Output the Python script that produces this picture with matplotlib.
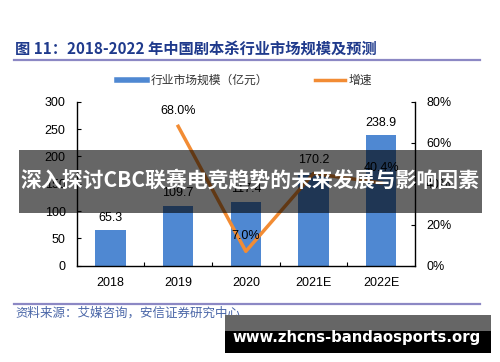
import matplotlib
matplotlib.use("Agg")
from matplotlib import pyplot as plt
from matplotlib.lines import Line2D
from matplotlib.patches import Rectangle

# dados do gráfico
anos = ["2018", "2019", "2020", "2021E", "2022E"]
mercado = [65.3, 109.7, 117.4, 170.2, 238.9]          # 亿元
crescimento = [None, 68.0, 7.0, 45.0, 40.4]           # %
rotulos_cresc = ["", "68.0%", "7.0%", "", "40.4%"]
ticks_esq = [0, 50, 100, 150, 200, 250, 300]
ticks_dir = [0, 20, 40, 60, 80]

titulo = "图 11：2018-2022 年中国剧本杀行业市场规模及预测"
fonte = "资料来源：艾媒咨询，安信证券研究中心"
faixa = "深入探讨CBC联赛电竞趋势的未来发展与影响因素"
site = "www.zhcns-bandaosports.org"

azul = "#4f88d2"
laranja = "#f28c34"
cjk = ["Noto Sans CJK SC", "DejaVu Sans"]
num = ["Liberation Sans", "DejaVu Sans"]

plt.rcParams["font.family"] = num
fig = plt.figure(figsize=(5, 3.62), dpi=100)
ax = fig.add_axes([0.1534, 0.266, 0.6766, 0.453])
x = list(range(len(anos)))

barras = ax.bar(x, mercado, width=0.45, color=azul, zorder=2)
ax.set_xlim(-0.5, 4.5)
ax.set_ylim(0, 300)
ax.set_yticks(ticks_esq)
ax.set_xticks([i + 0.5 for i in x[:-1]], minor=False)
ax.set_xticklabels([])
ax.set_xticks(x, minor=True)
ax.set_xticklabels(anos, minor=True, fontsize=9)
ax.tick_params(axis="x", which="major", direction="in", length=3, width=0.8)
ax.tick_params(axis="x", which="minor", length=0, pad=8)
ax.tick_params(axis="y", direction="in", length=3, width=0.8, labelsize=9, pad=8)
for s in ["top", "right"]:
    ax.spines[s].set_visible(False)
for s in ["left", "bottom"]:
    ax.spines[s].set_linewidth(1.0)

for xi, v in zip(x, mercado):
    ax.annotate(f"{v:.1f}", (xi, v), xytext=(0, 9), textcoords="offset points",
                ha="center", va="center", fontsize=9, zorder=5)

ax2 = ax.twinx()
xs = [xi for xi, g in zip(x, crescimento) if g is not None]
gs = [g for g in crescimento if g is not None]
ax2.plot(xs, gs, color=laranja, lw=2.5, zorder=3)
ax2.set_ylim(0, 80)
ax2.set_yticks(ticks_dir)
ax2.set_yticklabels([f"{t}%" for t in ticks_dir])
ax2.tick_params(axis="y", direction="in", length=3, width=0.8, labelsize=9, pad=8)
for s in ["top", "left", "bottom"]:
    ax2.spines[s].set_visible(False)
ax2.spines["right"].set_linewidth(1.0)
for xi, g, r in zip(x, crescimento, rotulos_cresc):
    if g is not None and r:
        ax2.annotate(r, (xi, g), xytext=(0, 11), textcoords="offset points",
                     ha="center", va="center", fontsize=9, zorder=5)

# legenda
h1 = Line2D([], [], color=azul, lw=4)
h2 = Line2D([], [], color=laranja, lw=2.5)
leg = fig.legend([h1, h2], ["行业市场规模（亿元）", "增速"], loc="center left",
                 bbox_to_anchor=(117 / 500, 1 - 80.5 / 362), ncol=2, frameon=False,
                 borderaxespad=0, borderpad=0,
                 handlelength=2.5, columnspacing=4.0, handletextpad=0.35,
                 prop={"family": cjk, "size": 8.5})
for t in leg.get_texts():
    t.set_color("#333333")

# título e linhas
fig.text(0.03, 1 - 49 / 362, titulo, fontsize=11, fontweight="bold",
         color="#1f3a8c", family=cjk, ha="left", va="center")
fig.add_artist(Line2D([14 / 500, 480 / 500], [1 - 60 / 362] * 2,
                      color="#8c88c4", lw=1.6, transform=fig.transFigure))
fig.add_artist(Line2D([14 / 500, 480 / 500], [1 - 303.5 / 362] * 2,
                      color="#8c88c4", lw=1.6, transform=fig.transFigure))
fig.text(0.03, 1 - 313 / 362, fonte, fontsize=9, style="italic",
         color="#4a66a8", family=cjk, ha="left", va="center")

# faixa escura por cima
fig.add_artist(Rectangle((19 / 500, 1 - 212.7 / 362), 463 / 500, 62.7 / 362,
                         transform=fig.transFigure, color="black", alpha=0.6,
                         lw=0, zorder=10))
fig.text(0.5, 1 - 181 / 362, faixa, fontsize=15, fontweight="bold",
         color="white", family=cjk, ha="center", va="center", zorder=11)

# marca d'água
fig.add_artist(Rectangle((225 / 500, 1 - 331 / 362), 266 / 500, 16 / 362,
                         transform=fig.transFigure, color="#666666", lw=0, zorder=10))
fig.add_artist(Rectangle((225 / 500, 1 - 352.5 / 362), 266 / 500, 21.5 / 362,
                         transform=fig.transFigure, color="black", lw=0, zorder=10))
fig.text(357 / 500, 1 - 337.5 / 362, site, fontsize=10.7, fontweight="bold",
         color="white", family="DejaVu Sans", ha="center", va="center", zorder=11)

fig.savefig("out.png", dpi=100)
